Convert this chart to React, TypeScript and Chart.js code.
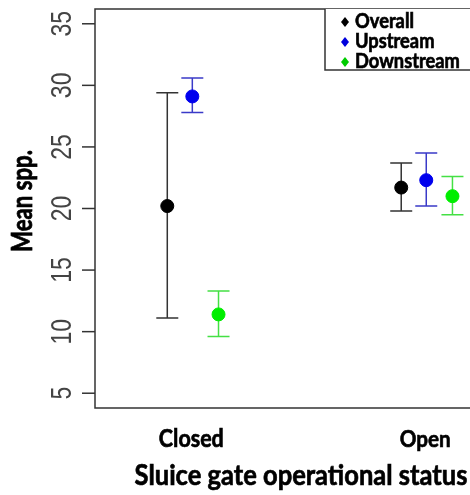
import React, { useEffect, useRef } from "react";
import { Chart, registerables } from "chart.js";

Chart.register(...registerables);

const categories = ["Closed", "Open"];
const seriesNames = ["Overall", "Upstream", "Downstream"];
const overallMean = [20.2, 21.7];
const overallLow = [11.1, 19.8];
const overallHigh = [29.4, 23.7];
const upstreamMean = [29.1, 22.3];
const upstreamLow = [27.8, 20.2];
const upstreamHigh = [30.6, 24.5];
const downstreamMean = [11.4, 21.0];
const downstreamLow = [9.6, 19.5];
const downstreamHigh = [13.3, 22.6];
const yTicks = [5, 10, 15, 20, 25, 30, 35];

const pointColors = ["#000000", "#0000ee", "#00ee00"];
const barColors = ["#333333", "#3a3ac8", "#44e044"];
const legendColors = ["#000000", "#0000dd", "#00cc00"];
const offsets = [-0.107, 0, 0.112];

const means = [overallMean, upstreamMean, downstreamMean];
const lows = [overallLow, upstreamLow, downstreamLow];
const highs = [overallHigh, upstreamHigh, downstreamHigh];

const BOLD = "Lato, 'Open Sans', sans-serif";
const REG = "'Liberation Sans', Arial, sans-serif";

function fitSize(ctx: CanvasRenderingContext2D, text: string, font: string, weight: string, target: number) {
  ctx.font = `${weight} 100px ${font}`;
  const w = ctx.measureText(text).width;
  return (100 * target) / w;
}

function boldText(ctx: CanvasRenderingContext2D, text: string, x: number, y: number, sy: number) {
  ctx.save();
  ctx.translate(x, y);
  ctx.scale(1, sy);
  ctx.lineWidth = 0.6;
  ctx.strokeStyle = ctx.fillStyle as string;
  ctx.fillText(text, 0, 0);
  ctx.strokeText(text, 0, 0);
  ctx.restore();
}

const errorBars = {
  id: "errorBars",
  beforeDatasetsDraw(chart: any) {
    const ctx = chart.ctx as CanvasRenderingContext2D;
    const xs = chart.scales.x;
    const ys = chart.scales.y;
    ctx.save();
    ctx.lineWidth = 1.5;
    means.forEach((_, s) => {
      ctx.strokeStyle = barColors[s];
      categories.forEach((_, c) => {
        const x = xs.getPixelForValue(c + 1 + offsets[s]);
        const yl = ys.getPixelForValue(lows[s][c]);
        const yh = ys.getPixelForValue(highs[s][c]);
        const cap = 11;
        ctx.beginPath();
        ctx.moveTo(x, yl);
        ctx.lineTo(x, yh);
        ctx.moveTo(x - cap, yl);
        ctx.lineTo(x + cap, yl);
        ctx.moveTo(x - cap, yh);
        ctx.lineTo(x + cap, yh);
        ctx.stroke();
      });
    });
    ctx.restore();
  },
};

const frame = {
  id: "frame",
  afterDraw(chart: any) {
    const ctx = chart.ctx as CanvasRenderingContext2D;
    const { left, top, bottom, right } = chart.chartArea;
    const xs = chart.scales.x;
    const ys = chart.scales.y;
    ctx.save();
    ctx.strokeStyle = "#333333";
    ctx.lineWidth = 1.5;
    ctx.beginPath();
    ctx.moveTo(right + 2, top);
    ctx.lineTo(left, top);
    ctx.lineTo(left, bottom);
    ctx.lineTo(right + 2, bottom);
    ctx.stroke();

    // y ticks
    ctx.fillStyle = "#444444";
    ctx.font = `23px ${REG}`;
    ctx.textAlign = "center";
    ctx.textBaseline = "alphabetic";
    yTicks.forEach((t) => {
      const y = ys.getPixelForValue(t);
      ctx.beginPath();
      ctx.moveTo(left - 13, y);
      ctx.lineTo(left, y);
      ctx.stroke();
      ctx.save();
      ctx.translate(left - 24, y);
      ctx.scale(1.25, 1);
      ctx.rotate(-Math.PI / 2);
      ctx.fillText(String(t), 0, 0);
      ctx.restore();
    });

    // x category labels
    ctx.fillStyle = "#000000";
    const catWidths = [65, 51];
    categories.forEach((c, i) => {
      const size = fitSize(ctx, c, BOLD, "bold", catWidths[i]);
      ctx.font = `bold ${size}px ${BOLD}`;
      ctx.textAlign = "center";
      boldText(ctx, c, xs.getPixelForValue(i + 1) - 1, bottom + 39, 1.12);
    });

    // x title
    const xt = "Sluice gate operational status";
    const xts = fitSize(ctx, xt, BOLD, "bold", 333);
    ctx.font = `bold ${xts}px ${BOLD}`;
    ctx.textAlign = "center";
    boldText(ctx, xt, 301, bottom + 77, 1.12);

    // y title
    const yt = "Mean spp.";
    const yts = fitSize(ctx, yt, BOLD, "bold", 102);
    ctx.save();
    ctx.font = `bold ${yts}px ${BOLD}`;
    ctx.translate(32, 201);
    ctx.scale(1.25, 1);
    ctx.rotate(-Math.PI / 2);
    ctx.textAlign = "center";
    ctx.lineWidth = 0.6;
    ctx.strokeStyle = "#000000";
    ctx.fillText(yt, 0, 0);
    ctx.strokeText(yt, 0, 0);
    ctx.restore();

    // legend
    ctx.fillStyle = "#ffffff";
    ctx.fillRect(325, top, right - 325 + 2, 70 - top);
    ctx.beginPath();
    ctx.moveTo(right + 2, 70);
    ctx.lineTo(325, 70);
    ctx.lineTo(325, top);
    ctx.stroke();
    const ls = fitSize(ctx, "Downstream", BOLD, "bold", 105);
    ctx.font = `bold ${ls}px ${BOLD}`;
    ctx.textAlign = "left";
    seriesNames.forEach((n, i) => {
      const cy = 22 + i * 20;
      ctx.fillStyle = legendColors[i];
      ctx.beginPath();
      ctx.moveTo(345, cy - 5);
      ctx.lineTo(349, cy);
      ctx.lineTo(345, cy + 5);
      ctx.lineTo(341, cy);
      ctx.closePath();
      ctx.fill();
      ctx.fillStyle = "#000000";
      boldText(ctx, n, 355, cy + 6, 1.1);
    });
    ctx.restore();
  },
};

export default function App() {
  const ref = useRef<HTMLCanvasElement | null>(null);
  useEffect(() => {
    if (!ref.current) return;
    const datasets = seriesNames.map((name, s) => ({
      label: name,
      data: categories.map((_, c) => ({ x: c + 1 + offsets[s], y: means[s][c] })),
      backgroundColor: pointColors[s],
      borderColor: pointColors[s],
      pointRadius: 6.5,
      pointHoverRadius: 6.5,
      showLine: false,
    }));
    const chart = new Chart(ref.current, {
      type: "scatter",
      data: { datasets },
      plugins: [errorBars, frame],
      options: {
        animation: false,
        responsive: false,
        devicePixelRatio: 1,
        layout: { autoPadding: false, padding: { left: 95, right: 0, top: 9, bottom: 87 } },
        plugins: { legend: { display: false }, tooltip: { enabled: false } },
        scales: {
          x: { type: "linear", min: 0.584, max: 2.187, display: false },
          y: { type: "linear", min: 3.8, max: 36.2, display: false },
        },
      },
    });
    return () => chart.destroy();
  }, []);
  return (
    <div style={{ position: "absolute", left: 0, top: 0, width: 470, height: 495, background: "#fff" }}>
      <canvas ref={ref} width={470} height={495} />
    </div>
  );
}
